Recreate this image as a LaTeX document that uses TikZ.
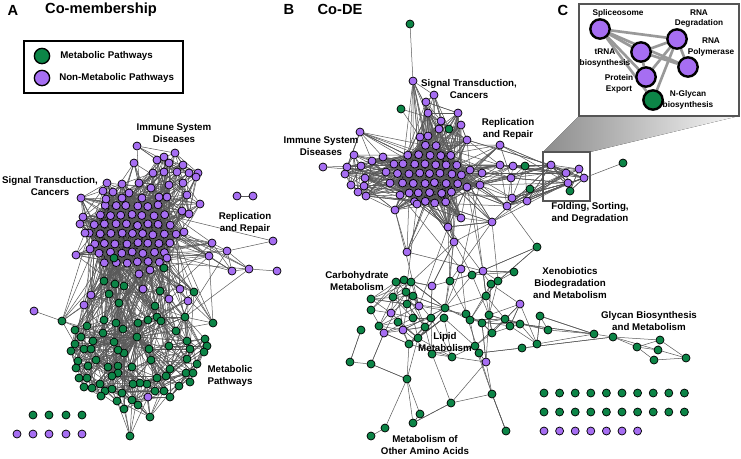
\documentclass[tikz,border=0pt]{standalone}
\usepackage{fontspec}
\setmainfont{Liberation Sans}
\usepackage{tikz}
\usetikzlibrary{backgrounds}
\definecolor{metgreen}{HTML}{0C8547}
\definecolor{nonmet}{HTML}{A66EF2}
\definecolor{frame}{HTML}{555555}

% packed blob of non-metabolic nodes inside an ellipse
\newcount\corecnt
\newcommand\makecore[6]{%
  \global\corecnt=0
  \foreach \i in {-8,...,8}{%
    \foreach \j in {-6,...,6}{%
      \pgfmathsetmacro\cpx{#3+\i*10.8+mod(abs(\j),2)*5.4+rnd*2-1}%
      \pgfmathsetmacro\cpy{#4+\j*9.4+rnd*2-1}%
      \pgfmathtruncatemacro\cin{((\cpx-#3)/#5)*((\cpx-#3)/#5)+((\cpy-#4)/#6)*((\cpy-#4)/#6)<1}%
      \ifnum\cin=1
        \global\advance\corecnt by 1
        \node[#2] (#1\the\corecnt) at (\cpx,\cpy) {};
      \fi
    }}}

% random links between two node sets, kept only if short enough (px)
\newcommand\netlinks[6]{%
  \foreach \k in {1,...,#5}{%
    \pgfmathrandominteger{\lka}{1}{#2}%
    \pgfmathrandominteger{\lkb}{1}{#4}%
    \pgfpointdiff{\pgfpointanchor{#1\lka}{center}}{\pgfpointanchor{#3\lkb}{center}}%
    \pgfgetlastxy{\lkdx}{\lkdy}%
    \pgfmathtruncatemacro\lkok{and(veclen(\lkdx,\lkdy)<#6*0.75,veclen(\lkdx,\lkdy)>1)}%
    \ifnum\lkok=1 \draw[link] (#1\lka) -- (#3\lkb);\fi
  }}

% random links from one node into a set
\newcommand\fanlinks[5]{%
  \foreach \k in {1,...,#4}{%
    \pgfmathrandominteger{\lkb}{1}{#3}%
    \pgfpointdiff{\pgfpointanchor{#1}{center}}{\pgfpointanchor{#2\lkb}{center}}%
    \pgfgetlastxy{\lkdx}{\lkdy}%
    \pgfmathtruncatemacro\lkok{and(veclen(\lkdx,\lkdy)<#5*0.75,veclen(\lkdx,\lkdy)>1)}%
    \ifnum\lkok=1 \draw[link] (#1) -- (#2\lkb);\fi
  }}

\begin{document}
\begin{tikzpicture}[x=0.75pt, y=-0.75pt,
    met/.style={circle, draw=black, line width=0.55pt, fill=metgreen, minimum size=6pt, inner sep=0pt},
    nmet/.style={met, fill=nonmet},
    bigmet/.style={circle, draw=black, line width=1.8pt, fill=metgreen, minimum size=14.5pt, inner sep=0pt},
    bignmet/.style={bigmet, fill=nonmet},
    legmet/.style={circle, draw=black, line width=1pt, fill=metgreen, minimum size=11.5pt, inner sep=0pt},
    legnmet/.style={legmet, fill=nonmet},
    link/.style={draw=black!65, line width=0.38pt},
    clink/.style={draw=black!40, line width=2pt},
    lbl/.style={font=\fontsize{7.3}{9}\selectfont\bfseries, align=center, inner sep=0pt},
    clbl/.style={font=\fontsize{6.2}{8.2}\selectfont\bfseries, align=center, inner sep=0pt},
    ttl/.style={font=\fontsize{11}{13}\selectfont\bfseries, inner sep=0pt},
  ]
  \useasboundingbox (0,0) rectangle (741,458);
  \pgfmathsetseed{11}

  % ---------------- panel A ----------------
  \node[ttl] (ttlA) at (13,10) {A};
  \node[ttl] (nameA) at (101,10) {Co-membership};
  \draw[line width=1pt] (24,41) rectangle (183,93);
  \node[legmet]  (legG) at (42,56) {};
  \node[legnmet] (legP) at (42,78) {};
  \node[lbl, anchor=west] (legGt) at (60,56) {Metabolic Pathways};
  \node[lbl, anchor=west] (legPt) at (59,78) {Non-Metabolic Pathways};

  \makecore{acore}{nmet}{132}{234}{48}{36}
  \xdef\nAC{\the\corecnt}
  \foreach \x/\y [count=\i] in {137/146,164/157,175/153,157/160,134/163,169/163,183/165,153/173,
      164/172,177/172,189/173,198/173,107/183,122/184,139/183,151/188,169/185,183/183,196/177,
      103/191,113/192,129/193,142/198,159/197,167/197,187/195,200/204,106/199,122/198,81/198,
      83/217,80/224,85/233,90/249,76/255,182/211,189/214,184/232,167/258,150/270,139/274,
      143/289,180/289,169/299,188/301,91/295,84/305,34/311,148/397}
    {\node[nmet] (aper\i) at (\x,\y) {}; \xdef\nAP{\i}}
  \foreach \x/\y [count=\i] in {212/243,227/251,209/256,273/241,232/271,249/269,277/271}
    \node[nmet] (arep\i) at (\x,\y) {};
  \node[nmet] (apair1) at (237,196) {};
  \node[nmet] (apair2) at (253,196) {};
  \foreach \x/\y [count=\i] in {114/258,164/268,104/281,115/284,124/286,109/294,160/291,194/292,
      119/303,155/306,62/321,87/326,104/320,116/323,123/329,138/323,148/320,157/317,161/321,
      185/317,213/323,176/331,187/341,190/349,205/339,207/346,204/352,187/359,197/364,169/346,
      149/349,151/360,170/369,166/376,186/373,193/373,190/382,179/386,157/378,164/391,170/397,
      155/391,147/384,140/383,133/384,132/367,118/366,118/373,112/376,108/367,100/384,105/391,
      112/389,101/396,122/393,117/401,124/409,132/400,138/405,150/417,130/436,75/330,81/337,
      75/344,71/351,84/349,91/349,93/341,103/333,114/342,124/353,118/350,96/360,78/361,88/366,
      76/368,79/378,87/378,84/387,92/388}
    {\node[met] (ag\i) at (\x,\y) {}; \xdef\nAG{\i}}
  \node[met] (ahub) at (137,337) {};
  \foreach \x [count=\i] in {33,49,66,82} \node[met] (aisog\i) at (\x,415) {};
  \foreach \x [count=\i] in {17,33,49,66,82} \node[nmet] (aisop\i) at (\x,434) {};

  \node[lbl] (labAimm) at (174,133) {Immune System\\Diseases};
  \node[lbl] (labAsig) at (50,186) {Signal Transduction,\\Cancers};
  \node[lbl] (labArep) at (245,223) {Replication\\and Repair};
  \node[lbl] (labAmet) at (230,376) {Metabolic\\Pathways};

  % ---------------- panel B ----------------
  \node[ttl] (ttlB) at (289,9) {B};
  \node[ttl] (nameB) at (340,9) {Co-DE};

  \makecore{bcore}{nmet}{430}{174}{38}{31}
  \xdef\nBC{\the\corecnt}
  \foreach \x/\y [count=\i] in {413/81,434/95,426/102,428/113,458/113,441/121,439/129,461/125,
      467/140,420/137,428/136,360/132,354/155,323/167,347/167,361/166,372/161,383/157,345/174,
      351/185,365/178,364/186,358/192,366/196,386/172,394/164,390/183,400/195,500/145,500/165,
      513/166,511/178,512/198,527/201,507/206,492/222,461/218,448/227,470/170,482/173,480/185,
      467/187,395/210,417/204,454/242,407/252}
    {\node[nmet] (bper\i) at (\x,\y) {}; \xdef\nBP{\i}}
  \foreach \x/\y [count=\i] in {410/24,401/109,449/129,525/166,530/189,623/163,537/247}
    \node[met] (bup\i) at (\x,\y) {};
  \foreach \x/\y [count=\i] in {551/165,566/173,579/169,584/178,568/183}
    \node[nmet] (bbox\i) at (\x,\y) {};
  \node[met] (bboxg) at (570,191) {};
  \foreach \x/\y [count=\i] in {461/269,483/271,432/286,520/304,419/306,391/313,403/330,384/333,486/362}
    {\node[nmet] (blow\i) at (\x,\y) {}; \xdef\nBL{\i}}
  \foreach \x/\y [count=\i] in {472/275,491/284,498/281,514/272,450/281,396/282,404/280,411/282,
      406/292,413/296,393/297,371/299,371/310,407/304,486/296,445/308,413/318,431/318,444/318,
      466/314,489/315,470/320,482/323,505/319,510/326,520/324,540/316,548/330,492/333,398/322,
      379/326,361/330,425/327,418/338,409/344,475/346,479/353,522/348,537/344,432/354,452/357,
      350/362,371/364,407/379,492/394,451/403,420/414,413/423,385/428,371/436,506/431}
    {\node[met] (bg\i) at (\x,\y) {}; \xdef\nBG{\i}}
  \foreach \x/\y [count=\i] in {594/334,613/337,637/347,660/340,658/350,654/360,686/358}
    \node[met] (bgly\i) at (\x,\y) {};
  \foreach \k [count=\i] in {0,...,9} \node[met] (bisog\i) at ({544+15.6*\k},393) {};
  \foreach \k [count=\i] in {0,...,9} \node[met] (bisoh\i) at ({544+15.6*\k},412) {};
  \foreach \k [count=\i] in {0,...,6} \node[nmet] (bisop\i) at ({544+15.6*\k},431) {};

  \node[lbl] (labBsig) at (469,89) {Signal Transduction,\\Cancers};
  \node[lbl] (labBrep) at (508,129) {Replication\\and Repair};
  \node[lbl] (labBimm) at (321,146) {Immune System\\Diseases};
  \node[lbl] (labBfol) at (590,213) {Folding, Sorting,\\and Degradation};
  \node[lbl] (labBcar) at (357,281) {Carbohydrate\\Metabolism};
  \node[lbl] (labBlip) at (445,342) {Lipid\\Metabolism};
  \node[lbl] (labBxen) at (570,283) {Xenobiotics\\Biodegradation\\and Metabolism};
  \node[lbl] (labBgly) at (649,321) {Glycan Biosynthesis\\and Metabolism};
  \node[lbl] (labBami) at (425,445) {Metabolism of\\Other Amino Acids};

  % ---------------- panel C ----------------
  \fill[left color=black!45, right color=black!3] (543,152) -- (579,116) -- (739,116) -- (590,152) -- cycle;
  \draw[frame, line width=1.5pt] (579,4) rectangle (739,116);
  \draw[frame, line width=1.5pt] (543,152) rectangle (590,201);
  \node[ttl] (ttlC) at (563,10) {C};
  \node[bignmet] (cSpl)  at (600,29) {};
  \node[bignmet] (cDeg)  at (677,39) {};
  \node[bignmet] (cTrna) at (641,52) {};
  \node[bignmet] (cPol)  at (688,67) {};
  \node[bignmet] (cProt) at (646,77) {};
  \node[bigmet]  (cGly)  at (653,100) {};
  \node[clbl] (labCspl) at (618,13) {Spliceosome};
  \node[clbl] (labCdeg) at (699,18.5) {RNA\\Degradation};
  \node[clbl] (labCpol) at (711,47) {RNA\\Polymerase};
  \node[clbl] (labCtrn) at (605,58) {tRNA\\biosynthesis};
  \node[clbl] (labCpro) at (619,84) {Protein\\Export};
  \node[clbl] (labCgly) at (688,99.5) {N-Glycan\\biosynthesis};

  % ---------------- connectors ----------------
  \begin{scope}[on background layer]
    % A
    \begin{scope}[link/.style={draw=black!90, line width=0.5pt}]
      \netlinks{acore}{\nAC}{acore}{\nAC}{1400}{65}
    \end{scope}
    \netlinks{aper}{\nAP}{acore}{\nAC}{900}{70}
    \netlinks{aper}{\nAP}{aper}{\nAP}{500}{45}
    \netlinks{ag}{\nAG}{ag}{\nAG}{1100}{60}
    \fanlinks{ahub}{ag}{\nAG}{90}{90}
    \netlinks{ag}{\nAG}{acore}{\nAC}{600}{110}
    \netlinks{ag}{\nAG}{aper}{\nAP}{350}{80}
    \netlinks{arep}{7}{acore}{\nAC}{50}{120}
    \netlinks{arep}{7}{ag}{\nAG}{60}{80}
    \foreach \a/\b in {1/2,2/4,1/3,3/5,2/5,5/6,6/7,2/6,1/5}
      \draw[link] (arep\a) -- (arep\b);
    \draw[link] (apair1) -- (apair2);
    % B
    \draw[link] (bup1) -- (bper1);
    \fanlinks{bper1}{bcore}{\nBC}{12}{110}
    \draw[link] (bup2) -- (bper10);
    \draw[link] (bup3) -- (bper6);
    \draw[link] (bup3) -- (bper8);
    \draw[link] (bper12) -- (bper17);
    \begin{scope}[link/.style={draw=black!90, line width=0.5pt}]
      \netlinks{bcore}{\nBC}{bcore}{\nBC}{1100}{65}
    \end{scope}
    \netlinks{bper}{\nBP}{bcore}{\nBC}{800}{75}
    \netlinks{bper}{\nBP}{bper}{\nBP}{500}{45}
    \netlinks{bup}{5}{bper}{\nBP}{80}{45}
    \netlinks{bbox}{5}{bper}{\nBP}{200}{90}
    \netlinks{bbox}{5}{bbox}{5}{25}{40}
    \fanlinks{bboxg}{bper}{\nBP}{30}{75}
    \fanlinks{bboxg}{bbox}{5}{6}{40}
    \draw[link] (bbox4) -- (bup6);
    \fanlinks{bup7}{bper}{\nBP}{20}{60}
    \fanlinks{bup7}{bg}{\nBG}{20}{80}
    \netlinks{bg}{\nBG}{bg}{\nBG}{600}{45}
    \netlinks{blow}{\nBL}{bg}{\nBG}{160}{50}
    \netlinks{blow}{\nBL}{bper}{\nBP}{100}{105}
    \netlinks{bg}{\nBG}{bper}{\nBP}{300}{75}
    \netlinks{bg}{\nBG}{bcore}{\nBC}{150}{100}
    \fanlinks{bgly1}{bg}{\nBG}{40}{75}
    \fanlinks{bgly2}{bg}{\nBG}{40}{95}
    \foreach \a/\b in {1/2,2/3,2/4,3/4,3/5,3/6,4/7,5/7,6/7,2/5,4/5}
      \draw[link] (bgly\a) -- (bgly\b);
    \foreach \a/\b in {44/49,44/48,44/47,44/43,44/35,49/50,48/46,45/51,45/37,45/36,42/43,42/32,47/48,46/40,44/34}
      \draw[link] (bg\a) -- (bg\b);
    \draw[link] (blow9) -- (bg46);
    % C
    \foreach \a/\b in {Spl/Deg,Spl/Trna,Spl/Prot,Spl/Pol,Trna/Deg,Trna/Pol,Deg/Pol,Deg/Prot,Deg/Gly,Prot/Trna,Spl/Gly}
      \draw[clink] (c\a) -- (c\b);
  \end{scope}
\end{tikzpicture}
\end{document}
